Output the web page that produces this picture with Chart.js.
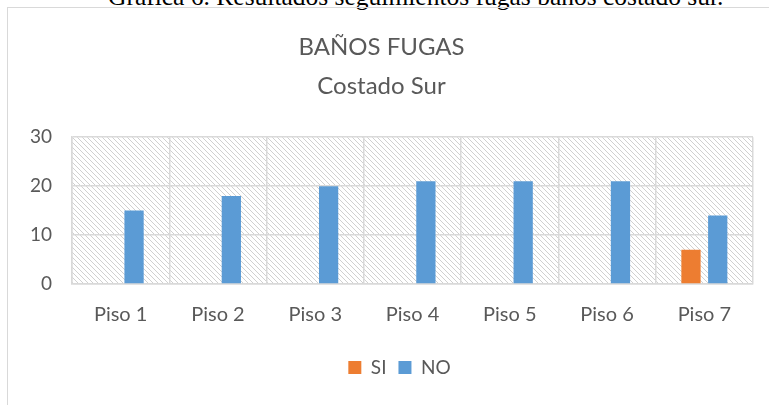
<!DOCTYPE html>
<html>
<head>
<meta charset="utf-8">
<script src="https://cdn.jsdelivr.net/npm/chart.js@4.4.0/dist/chart.umd.min.js"></script>
<style>
  html, body { margin: 0; padding: 0; background: #fff; }
  body { width: 769px; height: 405px; overflow: hidden; position: relative; }
  #caption { position: absolute; left: 108px; white-space: nowrap; top: -16px;
    font-family: "Liberation Serif", "Times New Roman", serif; font-size: 25.5px; line-height: 25px; color: #000; }
  #frame { position: absolute; left: 7px; top: 7px; width: 800px; height: 420px;
    border: 1px solid #d9d9d9; box-sizing: border-box; }
  #wrap { position: absolute; left: 0; top: 0; width: 769px; height: 405px; }
</style>
</head>
<body>
<div id="caption">Gráfica 6. Resultados seguimientos fugas baños costado sur.</div>
<div id="frame"></div>
<div id="wrap"><canvas id="c" width="769" height="405"></canvas></div>
<script>
const categories = ["Piso 1", "Piso 2", "Piso 3", "Piso 4", "Piso 5", "Piso 6", "Piso 7"];
const seriesNames = ["SI", "NO"];
const siValues = [0, 0, 0, 0, 0, 0, 7];
const noValues = [15, 18, 20, 21, 21, 21, 14];
const titleLines = ["BAÑOS FUGAS", "Costado Sur"];

function makeHatch() {
  const s = 5;
  const p = document.createElement('canvas');
  p.width = s; p.height = s;
  const g = p.getContext('2d');
  g.fillStyle = '#ffffff';
  g.fillRect(0, 0, s, s);
  g.strokeStyle = '#d0d0d0';
  g.lineWidth = 1;
  g.beginPath();
  g.moveTo(-1, -1); g.lineTo(s + 1, s + 1);
  g.moveTo(-1, s - 1); g.lineTo(1, s + 1);
  g.moveTo(s - 1, -1); g.lineTo(s + 1, 1);
  g.stroke();
  return g.createPattern(p, 'repeat');
}

const hatchPlugin = {
  id: 'hatch',
  afterLayout(chart) {
    const lg = chart.legend;
    if (lg) { lg.left += 18; lg.right += 18; }
  },
  beforeDraw(chart) {
    const { ctx, chartArea: a } = chart;
    ctx.save();
    ctx.fillStyle = makeHatch();
    ctx.fillRect(a.left, a.top, a.right - a.left, a.bottom - a.top);
    ctx.restore();
  }
};

const FONT = "Lato, 'Open Sans', sans-serif";
const GRAY = '#595959';

new Chart(document.getElementById('c'), {
  type: 'bar',
  data: {
    labels: categories,
    datasets: [
      { label: seriesNames[0], data: siValues, backgroundColor: '#ED7D31' },
      { label: seriesNames[1], data: noValues, backgroundColor: '#5B9BD5' }
    ]
  },
  options: {
    responsive: false,
    animation: false,
    devicePixelRatio: 1,
    categoryPercentage: 0.55,
    barPercentage: 0.72,
    layout: { padding: { left: 10, right: 16, top: 19, bottom: 18 } },
    plugins: {
      title: {
        display: true,
        text: titleLines,
        color: GRAY,
        font: { family: FONT, size: 24, weight: 'normal', lineHeight: 1.65 },
        padding: { top: 8, bottom: 31 }
      },
      legend: {
        position: 'bottom',
        labels: {
          color: GRAY,
          font: { family: FONT, size: 19 },
          boxWidth: 13, boxHeight: 13, padding: 12
        }
      },
      tooltip: { enabled: false }
    },
    scales: {
      x: {
        grid: { color: '#d9d9d9', lineWidth: 1.5, drawTicks: false, offset: true },
        border: { color: '#d9d9d9', width: 1.5 },
        ticks: { color: GRAY, font: { family: FONT, size: 20 }, padding: 19 }
      },
      y: {
        min: 0, max: 30,
        ticks: { stepSize: 10, color: GRAY, font: { family: FONT, size: 19 }, padding: 20 },
        grid: { color: '#d9d9d9', lineWidth: 1.5, drawTicks: false },
        border: { color: '#d9d9d9', width: 1.5 }
      }
    }
  },
  plugins: [hatchPlugin]
});
</script>
</body>
</html>
